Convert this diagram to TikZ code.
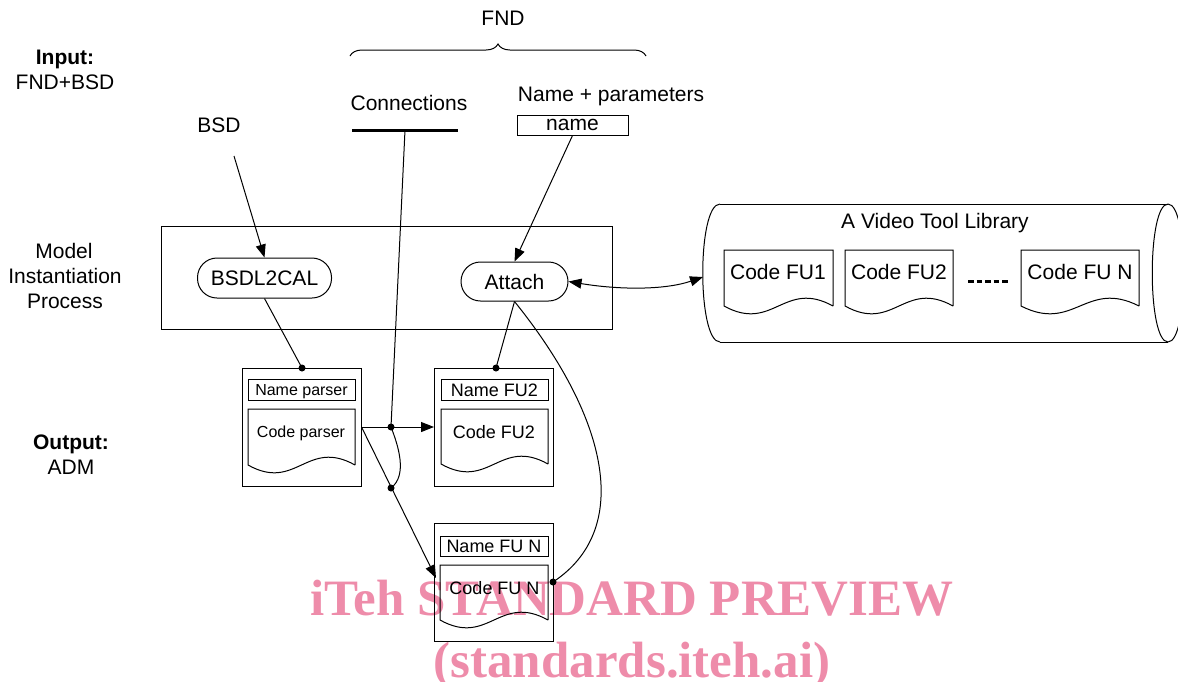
\documentclass[tikz,border=0pt]{standalone}
\usepackage{fontspec}
\setmainfont{Liberation Sans}
\newfontfamily\wmfont{Liberation Serif}
\usetikzlibrary{arrows.meta,decorations.pathreplacing,calc}
\definecolor{wmpink}{RGB}{238,140,170}
\newcommand{\fsz}[1]{\fontsize{#1}{#1}\selectfont}
% document shape: x0, ytop, x1, ybottom
\newcommand{\docshape}[4]{%
  \pgfmathsetmacro\dsW{#3-#1}%
  \pgfmathsetmacro\dsA{#1+0.45*\dsW}%
  \pgfmathsetmacro\dsB{#1+0.55*\dsW}%
  \pgfmathsetmacro\dsLo{#4+27}%
  \pgfmathsetmacro\dsHi{#4-27}%
  \draw (#3,#4) -- (#3,#2) -- (#1,#2) -- (#1,#4)
        .. controls (\dsA,\dsLo) and (\dsB,\dsHi) .. (#3,#4);%
}
\begin{document}
\begin{tikzpicture}[x=1pt,y=-1pt,line width=1pt,
  lbl/.style={inner sep=0pt, font=\fsz{21}, text height=15pt, text depth=0pt},
  sml/.style={inner sep=0pt, font=\fsz{16}, text height=11.5pt, text depth=0pt},
  mid/.style={inner sep=0pt, font=\fsz{18}, text height=13pt, text depth=0pt},
  box/.style={draw, inner sep=0pt},
  pill/.style={draw, inner sep=0pt, rounded corners=19.5pt},
  arr/.style={-{Triangle[length=13pt,width=10pt]}},
  darr/.style={{Triangle[length=13pt,width=10pt]}-{Triangle[length=13pt,width=10pt]}},
  dot/.style={circle, fill, inner sep=0pt, minimum size=7pt},
  wm/.style={text=wmpink, font=\wmfont\bfseries\fsz{51}, inner sep=0pt, anchor=base}
]
\useasboundingbox (0,0) rectangle (1178,681);

% watermark (behind)
\node[wm] (wm1) at (632,615) {iTeh STANDARD PREVIEW};
\node[wm] (wm2) at (632,677) {(standards.iteh.ai)};

% top labels
\node[lbl] (fnd) at (503,18) {FND};
\draw[decorate, decoration={brace, amplitude=12pt}] (350,56) -- (646,56);
\node[lbl, font=\fsz{21}\bfseries] (inp1) at (65,57) {Input:};
\node[lbl] (inp2) at (65,82) {FND+BSD};
\node[lbl] (conn) at (409,103) {Connections};
\coordinate (connL) at (352,130);
\coordinate (connR) at (458,130);
\coordinate (connT) at (405,130);
\draw[line width=3pt] (connL) -- (connR);
\node[lbl] (npar) at (611,94) {Name + parameters};
\node[box, lbl, text height=11pt, minimum width=111pt, minimum height=20pt] (name) at (572.5,125) {name};
\node[lbl] (bsd) at (219,125) {BSD};
\coordinate (bsdfrom) at (234,156);

% left labels
\node[lbl] (mip1) at (64,251) {Model};
\node[lbl] (mip2) at (65,276) {Instantiation};
\node[lbl] (mip3) at (65,301) {Process};
\node[lbl, font=\fsz{21}\bfseries] (out1) at (71,442) {Output:};
\node[lbl] (out2) at (71,467) {ADM};

% process box
\node[box, minimum width=451pt, minimum height=103pt] (proc) at (386.5,277.5) {};
\node[pill, lbl, minimum width=134pt, minimum height=40pt] (bsdl) at (264.5,278) {BSDL2CAL};
\node[pill, lbl, minimum width=107pt, minimum height=39pt] (attach) at (514.5,281.5) {Attach};

% library
\coordinate (libTL) at (720,204);
\coordinate (libBL) at (720,342);
\coordinate (libTR) at (1168,204);
\coordinate (libBR) at (1168,342);
\draw (libTL) -- (libTR);
\draw (libBL) -- (libBR);
\draw (libTL) .. controls (697,204) and (697,342) .. (libBL);
\draw (libTR) .. controls (1147,204) and (1147,342) .. (libBR);
\draw (libTR) .. controls (1189,204) and (1189,342) .. (libBR);
\coordinate (libIn) at (703,277);
\node[lbl] (libt) at (935,221) {A Video Tool Library};
\docshape{724}{250}{833}{306}
\docshape{845}{250}{953}{306}
\docshape{1021}{250}{1139}{306}
\node[lbl] (lf1) at (778,272) {Code FU1};
\node[lbl] (lf2) at (899,272) {Code FU2};
\node[lbl] (lfn) at (1080,272) {Code FU N};
\coordinate (dashA) at (968,281);
\coordinate (dashB) at (1008,281);
\draw[line width=3pt, dash pattern=on 5.5pt off 3pt] (dashA) -- (dashB);

% ADM blocks
\node[box, minimum width=119pt, minimum height=118pt] (bp) at (301.5,427) {};
\node[box, minimum width=119pt, minimum height=118pt] (b2) at (494,427) {};
\node[box, minimum width=119pt, minimum height=118pt] (bn) at (494,582) {};
\node[box, sml, minimum width=107pt, minimum height=21pt] (nparser) at (301.5,389.5) {Name parser};
\node[box, mid, minimum width=107pt, minimum height=21pt] (nfu2) at (494.5,389.5) {Name FU2};
\node[box, mid, minimum width=108pt, minimum height=20pt] (nfun) at (494,546) {Name FU N};
\docshape{248}{409}{355}{465}
\docshape{441}{409}{548}{464}
\docshape{440}{565}{548}{620}
\node[sml] (cparser) at (301,432) {Code parser};
\node[mid] (cfu2) at (494,432) {Code FU2};
\node[mid] (cfun) at (494.5,588) {Code FU N};

% dots
\node[dot] (dp) at (302,368) {};
\node[dot] (d2) at (496,368) {};
\node[dot] (j1) at (391,427) {};
\node[dot] (j2) at (391,488) {};
\node[dot] (dn) at (553,582) {};
\coordinate (fnin) at (436,578);

% connectors
\draw[arr] (bsdfrom) -- (bsdl.north);
\draw[arr] (name.south) -- (attach.north);
\draw[darr] (attach.east) .. controls (620,290) and (665,290) .. (libIn);
\draw (bsdl.south) -- (dp.center);
\draw (attach.south) -- (d2.center);
\draw (attach.south) .. controls (610,420) and (632,530) .. (dn.center);
\draw[arr] (bp.east) -- (b2.west);
\draw[arr] (bp.east) -- (fnin);
\draw (connT) -- (j1.center);
\draw (j1.center) .. controls (398,445) and (408,475) .. (j2.center);
\end{tikzpicture}
\end{document}
